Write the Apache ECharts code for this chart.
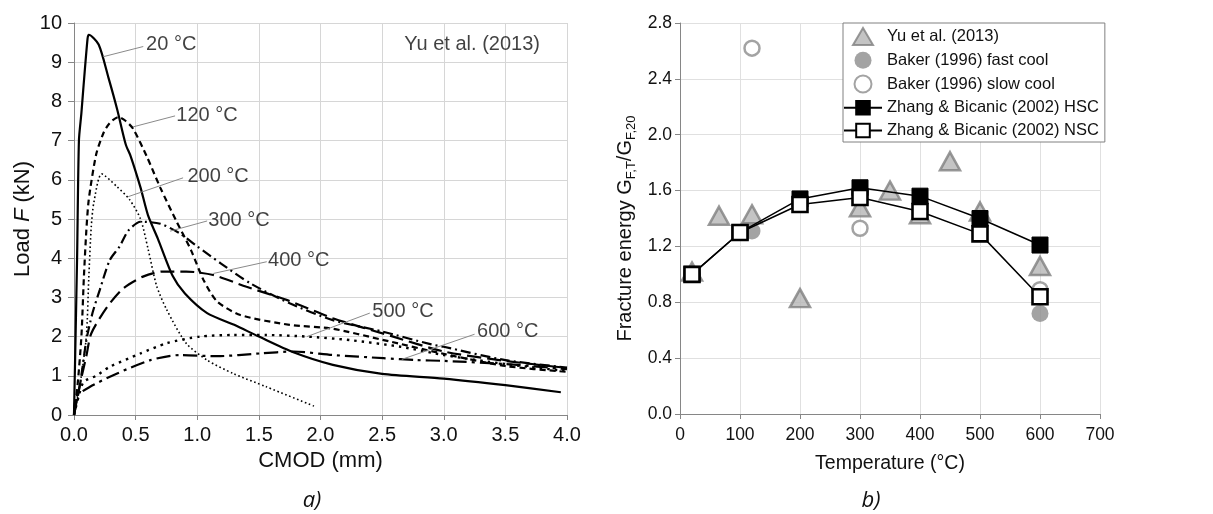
<!DOCTYPE html>
<html><head><meta charset="utf-8">
<script src="https://cdn.jsdelivr.net/npm/echarts@6/dist/echarts.min.js"></script>
<style>html,body{margin:0;padding:0;background:#fff}#c{width:1213px;height:514px}</style>
</head><body><div id="c"></div>
<script>
const FONT = '"Liberation Sans", Arial, sans-serif';

// ---------- Panel a): Load vs CMOD (Yu et al. 2013) ----------
const curve20  = [[0,0],[0.025,4],[0.04,7.0],[0.06,7.7],[0.075,8.3],[0.11,9.6],[0.12,9.7],[0.2,9.45],[0.28,8.6],[0.35,7.8],[0.42,6.9],[0.46,6.6],[0.54,5.8],[0.6,5.1],[0.68,4.5],[0.8,3.55],[0.9,3.1],[1.08,2.6],[1.3,2.3],[1.5,2.0],[1.78,1.6],[2.1,1.28],[2.5,1.05],[3.0,0.93],[3.5,0.76],[3.95,0.58]];
const curve120 = [[0,0],[0.03,0.8],[0.06,2.0],[0.08,3.5],[0.1,4.7],[0.12,5.5],[0.18,6.65],[0.24,7.2],[0.29,7.45],[0.36,7.6],[0.42,7.5],[0.48,7.3],[0.59,6.6],[0.7,5.8],[0.83,4.95],[0.95,4.2],[1.05,3.45],[1.16,2.9],[1.35,2.55],[1.75,2.3],[2.1,2.2],[2.5,1.92],[3.0,1.56],[3.5,1.25],[4.0,1.1]];
const curve200 = [[0,0],[0.05,0.8],[0.1,2.0],[0.12,3.5],[0.14,4.8],[0.16,5.4],[0.225,6.15],[0.35,5.82],[0.45,5.5],[0.54,5.0],[0.6,4.25],[0.67,3.3],[0.75,2.7],[0.91,1.83],[1.08,1.4],[1.29,1.06],[1.56,0.72],[1.96,0.21]];
const curve300 = [[0,0],[0.05,0.8],[0.1,1.9],[0.15,2.6],[0.21,3.2],[0.29,3.95],[0.37,4.3],[0.44,4.7],[0.54,4.93],[0.7,4.88],[0.86,4.63],[1.0,4.3],[1.19,3.87],[1.43,3.36],[1.75,2.85],[2.1,2.42],[2.5,2.13],[2.9,1.8],[3.0,1.74],[3.5,1.4],[4.0,1.21]];
const curve400 = [[0,0],[0.05,0.81],[0.1,1.5],[0.14,2.08],[0.27,2.76],[0.4,3.23],[0.56,3.53],[0.72,3.66],[0.91,3.66],[1.13,3.57],[1.4,3.27],[1.73,2.93],[2.1,2.47],[2.59,2.0],[3.0,1.62],[3.5,1.38],[4.0,1.2]];
const curve500 = [[0,0],[0.04,0.5],[0.08,0.85],[0.18,1.0],[0.29,1.23],[0.54,1.57],[0.75,1.83],[1.02,2.0],[1.29,2.04],[1.56,2.04],[1.89,2.0],[2.24,1.91],[2.65,1.74],[3.0,1.53],[3.5,1.3],[4.0,1.12]];
const curve600 = [[0,0],[0.02,0.47],[0.13,0.72],[0.35,1.06],[0.62,1.4],[0.86,1.53],[1.16,1.5],[1.51,1.57],[1.78,1.62],[2.1,1.53],[2.51,1.45],[2.78,1.4],[3.0,1.38],[3.5,1.3],[4.0,1.17]];
const curveNames = ['20 °C','120 °C','200 °C','300 °C','400 °C','500 °C','600 °C'];

// annotation labels (data coordinates)
const labAnchor = [[0.237,9.14],[0.479,7.35],[0.44,5.57],[0.78,4.69],[1.13,3.61],[1.89,2.0],[2.66,1.42]];
const labEnd    = [[0.562,9.40],[0.82,7.63],[0.885,6.05],[1.08,4.95],[1.564,3.91],[2.40,2.6],[3.25,2.06]];
const labPos    = [[0.585,9.44],[0.83,7.65],[0.92,6.08],[1.09,4.97],[1.575,3.95],[2.42,2.65],[3.27,2.12]];
const sourceLabel = ['Yu et al. (2013)', 2.68, 9.44];

// ---------- Panel b): Fracture energy vs temperature ----------
const yuT = [20,65,120,200,300,350,400,450,500,600];
const yuG = [1.02,1.42,1.43,0.83,1.48,1.60,1.43,1.81,1.45,1.06];
const bakerFastT = [20,120,600];
const bakerFastG = [1.0,1.31,0.72];
const bakerSlowT = [20,120,300,600];
const bakerSlowG = [1.0,2.62,1.33,0.89];
const zhangT = [20,100,200,300,400,500,600];
const zhangHSC = [1.0,1.30,1.54,1.62,1.56,1.40,1.21];
const zhangNSC = [1.0,1.30,1.50,1.55,1.45,1.29,0.84];
const legendNames = ['Yu et al. (2013)','Baker (1996) fast cool','Baker (1996) slow cool','Zhang & Bicanic (2002) HSC','Zhang & Bicanic (2002) NSC'];

const zip = (a,b) => a.map((v,i)=>[v,b[i]]);
const AX = '#868686', GRID = '#d6d6d6';

const chart = echarts.init(document.getElementById('c'), null, {renderer:'canvas'});

const lineStyles = [
  {width:2.2, type:'solid'},
  {width:2.2, type:[6,4]},
  {width:1.6, type:[1.6,2.6]},
  {width:2.2, type:[10,4,2,4]},
  {width:2.2, type:[14,6]},
  {width:2.4, type:[2.5,5]},
  {width:2.2, type:[14,5,3,5]}
];
const curves = [curve20,curve120,curve200,curve300,curve400,curve500,curve600];

const series = [];
curves.forEach((c,i)=>{
  series.push({type:'line', name:curveNames[i], xAxisIndex:0, yAxisIndex:0, data:c,
    symbol:'none', smooth:0.25, silent:true, z:3,
    lineStyle:Object.assign({color:'#000', cap:'butt'}, lineStyles[i])});
});
labAnchor.forEach((a,i)=>{
  series.push({type:'line', xAxisIndex:0, yAxisIndex:0, data:[a, labEnd[i]], symbol:'none', silent:true, z:4,
    lineStyle:{color:'#8a8a8a', width:1}});
});
series.push({type:'scatter', xAxisIndex:0, yAxisIndex:0, symbolSize:0, silent:true, z:5,
  data: labPos.map((p,i)=>[p[0],p[1],curveNames[i]]).concat([[sourceLabel[1],sourceLabel[2],sourceLabel[0]]]),
  label:{show:true, position:'right', distance:0, formatter:p=>p.value[2], fontSize:20, fontFamily:FONT, color:'#111'}});

// panel b series
series.push({type:'scatter', name:legendNames[0], xAxisIndex:1, yAxisIndex:1, data:zip(yuT,yuG),
  symbol:'triangle', symbolSize:[20,18], itemStyle:{color:'#b5b5b5', borderColor:'#7f7f7f', borderWidth:2.5}, z:3});
series.push({type:'scatter', name:legendNames[1], xAxisIndex:1, yAxisIndex:1, data:zip(bakerFastT,bakerFastG),
  symbol:'circle', symbolSize:17, itemStyle:{color:'#8c8c8c', borderColor:'#8c8c8c', borderWidth:0}, z:3});
series.push({type:'scatter', name:legendNames[2], xAxisIndex:1, yAxisIndex:1, data:zip(bakerSlowT,bakerSlowG),
  symbol:'circle', symbolSize:15, itemStyle:{color:'#fff', borderColor:'#8c8c8c', borderWidth:2.5}, z:3});
series.push({type:'line', name:legendNames[3], xAxisIndex:1, yAxisIndex:1, data:zip(zhangT,zhangHSC),
  symbol:'rect', symbolSize:16, showAllSymbol:true, lineStyle:{color:'#000', width:1.5},
  itemStyle:{color:'#000', borderColor:'#000', borderWidth:1}, z:4});
series.push({type:'line', name:legendNames[4], xAxisIndex:1, yAxisIndex:1, data:zip(zhangT,zhangNSC),
  symbol:'rect', symbolSize:15, showAllSymbol:true, lineStyle:{color:'#000', width:1.5},
  itemStyle:{color:'#fff', borderColor:'#000', borderWidth:2.6}, z:5});

chart.setOption({
  animation:false,
  backgroundColor:'#fff',
  grid:[
    {left:74, top:23, width:493, height:392},
    {left:680, top:23, width:420, height:391}
  ],
  xAxis:[
    {type:'value', gridIndex:0, min:0, max:4, interval:0.5,
     name:'CMOD (mm)', nameLocation:'middle', nameGap:34,
     nameTextStyle:{fontSize:22, fontFamily:FONT, color:'#111'},
     axisLine:{show:true, lineStyle:{color:AX, width:1}},
     axisTick:{show:true, length:5, lineStyle:{color:AX}},
     axisLabel:{fontSize:20, fontFamily:FONT, color:'#111', margin:10, formatter:v=>v.toFixed(1)},
     splitLine:{show:true, lineStyle:{color:GRID, width:1}}},
    {type:'value', gridIndex:1, min:0, max:700, interval:100,
     name:'Temperature (°C)', nameLocation:'middle', nameGap:40,
     nameTextStyle:{fontSize:19.5, fontFamily:FONT, color:'#111'},
     axisLine:{show:true, lineStyle:{color:AX, width:1}},
     axisTick:{show:true, length:5, lineStyle:{color:AX}},
     axisLabel:{fontSize:17.5, fontFamily:FONT, color:'#111', margin:12},
     splitLine:{show:true, lineStyle:{color:'#e0e0e0', width:1}}}
  ],
  yAxis:[
    {type:'value', gridIndex:0, min:0, max:10, interval:1,
     name:'Load {i|F} (kN)', nameLocation:'middle', nameGap:40, nameRotate:90,
     nameTextStyle:{fontSize:22, fontFamily:FONT, color:'#111', rich:{i:{fontSize:22, fontFamily:FONT, fontStyle:'italic', color:'#111'}}},
     axisLine:{show:true, lineStyle:{color:AX, width:1}},
     axisTick:{show:true, length:6, lineStyle:{color:AX}},
     axisLabel:{fontSize:20, fontFamily:FONT, color:'#111', margin:12},
     splitLine:{show:true, lineStyle:{color:GRID, width:1}}},
    {type:'value', gridIndex:1, min:0, max:2.8, interval:0.4,
     name:'{n|Fracture energy G}{s|F,T}{n|/G}{s|F,20}', nameLocation:'middle', nameGap:42, nameRotate:90,
     nameTextStyle:{fontSize:20, fontFamily:FONT, color:'#111', padding:[0,20,0,0],
       rich:{n:{fontSize:20, fontFamily:FONT, color:'#111', lineHeight:26},
             s:{fontSize:13, fontFamily:FONT, color:'#111', lineHeight:14, verticalAlign:'bottom'}}},
     axisLine:{show:true, lineStyle:{color:AX, width:1}},
     axisTick:{show:true, length:5, lineStyle:{color:AX}},
     axisLabel:{fontSize:17.5, fontFamily:FONT, color:'#111', margin:8, formatter:v=>v.toFixed(1)},
     splitLine:{show:true, lineStyle:{color:'#e0e0e0', width:1}}}
  ],
  legend:{
    data:[
      {name:legendNames[0], icon:'path://M10,0 L20,17 L0,17 Z'},
      {name:legendNames[1], icon:'circle'},
      {name:legendNames[2], icon:'circle'},
      {name:legendNames[3]},
      {name:legendNames[4]}
    ],
    orient:'vertical', left:843, top:23, itemWidth:38, itemHeight:17, itemGap:5.75,
    symbolKeepAspect:true,
    padding:[4,6,3,0], borderColor:'#808080', borderWidth:1, backgroundColor:'#fff',
    selectedMode:false, textStyle:{fontSize:16.5, fontFamily:FONT, color:'#111'}
  },
  graphic:[
    {type:'text', x:312, y:501, style:{text:'a)', font:'italic 22px "Open Sans", sans-serif', fill:'#111', align:'center', verticalAlign:'middle'}},
    {type:'text', x:871, y:501, style:{text:'b)', font:'italic 22px "Open Sans", sans-serif', fill:'#111', align:'center', verticalAlign:'middle'}}
  ],
  series:series
});
</script></body></html>
